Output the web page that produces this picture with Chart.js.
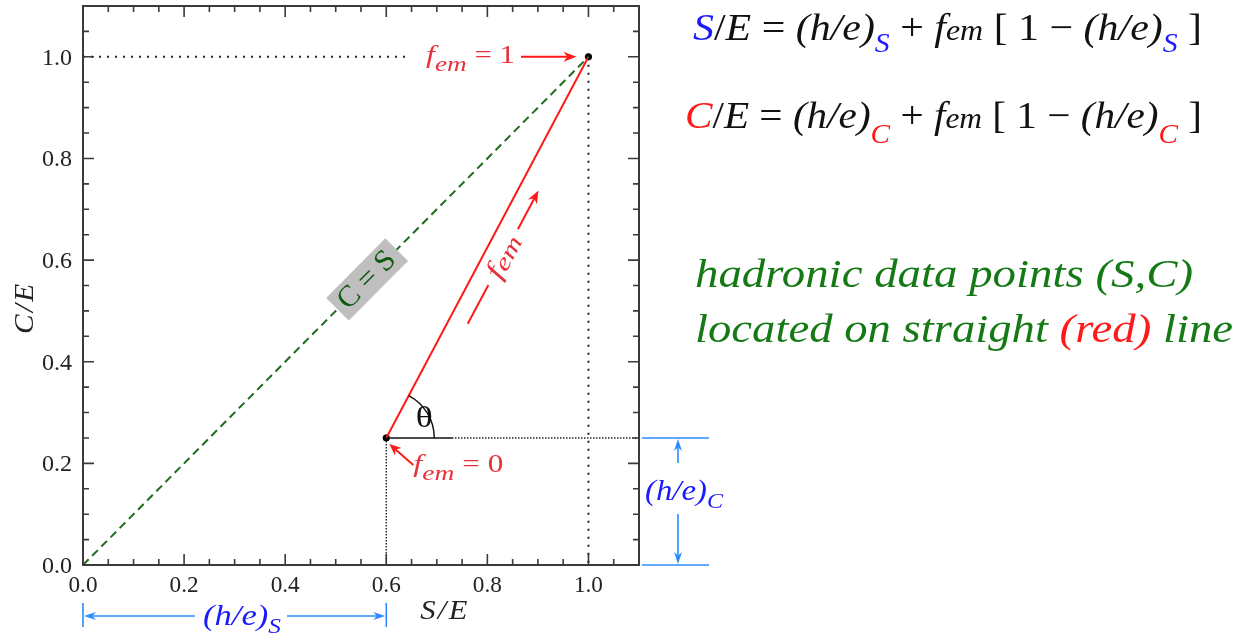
<!DOCTYPE html>
<html>
<head>
<meta charset="utf-8">
<script src="https://cdn.jsdelivr.net/npm/chart.js@4/dist/chart.umd.min.js"></script>
<style>
  html, body { margin: 0; padding: 0; background: #fff; }
  #wrap { width: 1259px; height: 637px; }
</style>
</head>
<body>
<div id="wrap"><canvas id="emChart" width="1259" height="637"></canvas></div>
<script>
// axis ticks
const xTicks = [0.0, 0.2, 0.4, 0.6, 0.8, 1.0];
const yTicks = [0.0, 0.2, 0.4, 0.6, 0.8, 1.0];
const minorStep = 0.05;
const axisMax = 1.1;

// C = S diagonal
const diagS = [0.0, 1.0];
const diagC = [0.0, 1.0];

// hadronic line, from f_em = 0 to f_em = 1
const hadS = [0.6, 1.0];
const hadC = [0.25, 1.0];
const heS = 0.6;
const heC = 0.25;

const SERIF = '"Liberation Serif", "Times New Roman", Times, serif';
const BLACK = '#111';
const RED = '#ff1a1a';
const LABEL_RED = '#e6323c';
const BLUE = '#1a1aff';
const LINE_BLUE = '#2b8cff';
const GREEN = '#157a15';

function pts(xs, ys) {
    return xs.map((x, i) => ({ x: x, y: ys[i] }));
}

// draws text made of several styled pieces; optional width squeezes the whole run
function drawRuns(ctx, parts, x, y, opts) {
    opts = opts || {};
    ctx.save();
    let total = 0;
    const widths = parts.map(p => {
        ctx.font = p.f;
        const w = ctx.measureText(p.t).width + (p.gap || 0);
        total += w;
        return w;
    });
    const sx = opts.width ? opts.width / total : 1;
    ctx.translate(x, y);
    if (opts.rot) ctx.rotate(opts.rot);
    ctx.scale(sx, 1);
    ctx.textBaseline = opts.baseline || 'alphabetic';
    ctx.textAlign = 'left';
    let cx = opts.align === 'center' ? -total / 2 : (opts.align === 'right' ? -total : 0);
    parts.forEach((p, i) => {
        ctx.font = p.f;
        ctx.fillStyle = p.c || BLACK;
        ctx.fillText(p.t, cx + (p.gap || 0) / 2, p.dy || 0);
        cx += widths[i];
    });
    ctx.restore();
}

function arrowHead(ctx, x1, y1, x2, y2, len, half, color) {
    const a = Math.atan2(y2 - y1, x2 - x1);
    ctx.save();
    ctx.fillStyle = color;
    ctx.translate(x2, y2);
    ctx.rotate(a);
    ctx.beginPath();
    ctx.moveTo(0, 0);
    ctx.lineTo(-len, -half);
    ctx.lineTo(-len * 0.7, 0);
    ctx.lineTo(-len, half);
    ctx.closePath();
    ctx.fill();
    ctx.restore();
}

function arrow(ctx, x1, y1, x2, y2, color, width, len, half) {
    ctx.save();
    ctx.strokeStyle = color;
    ctx.lineWidth = width;
    ctx.beginPath();
    ctx.moveTo(x1, y1);
    const a = Math.atan2(y2 - y1, x2 - x1);
    ctx.lineTo(x2 - Math.cos(a) * len * 0.7, y2 - Math.sin(a) * len * 0.7);
    ctx.stroke();
    ctx.restore();
    arrowHead(ctx, x1, y1, x2, y2, len, half, color);
}

function line(ctx, x1, y1, x2, y2, color, width) {
    ctx.save();
    ctx.strokeStyle = color;
    ctx.lineWidth = width;
    ctx.beginPath();
    ctx.moveTo(x1, y1);
    ctx.lineTo(x2, y2);
    ctx.stroke();
    ctx.restore();
}

const decorations = {
    id: 'decorations',
    afterDatasetsDraw(chart) {
        const ctx = chart.ctx;
        const xs = chart.scales.x, ys = chart.scales.y;
        const a = chart.chartArea;
        const px = v => xs.getPixelForValue(v);
        const py = v => ys.getPixelForValue(v);

        // frame
        ctx.save();
        ctx.strokeStyle = '#3a3a3a';
        ctx.lineWidth = 2;
        ctx.strokeRect(a.left, a.top, a.right - a.left, a.bottom - a.top);

        // inward ticks on all four sides
        ctx.lineWidth = 1.6;
        ctx.beginPath();
        const n = Math.round(axisMax / minorStep);
        for (let i = 1; i < n; i++) {
            const v = i * minorStep;
            const len = (i % 4 === 0) ? 11 : 6;
            const x = px(v), y = py(v);
            ctx.moveTo(x, a.bottom); ctx.lineTo(x, a.bottom - len);
            ctx.moveTo(x, a.top); ctx.lineTo(x, a.top + len);
            ctx.moveTo(a.left, y); ctx.lineTo(a.left + len, y);
            ctx.moveTo(a.right, y); ctx.lineTo(a.right - len, y);
        }
        ctx.stroke();
        ctx.restore();

        // tick labels
        const TF = '24px ' + SERIF;
        xTicks.forEach(v => drawRuns(ctx, [{ t: v.toFixed(1), f: TF, c: '#222' }], px(v), a.bottom + 27,
            { align: 'center', width: 29 }));
        yTicks.forEach(v => drawRuns(ctx, [{ t: v.toFixed(1), f: TF, c: '#222' }], a.left - 11, py(v) + 8,
            { align: 'right', width: 30 }));

        // axis titles
        const AT = 'italic 27px ' + SERIF;
        drawRuns(ctx, [{ t: 'S', f: AT, c: '#222' }, { t: '/', f: AT, c: '#222', gap: 4 }, { t: 'E', f: AT, c: '#222' }],
            (px(0.6) + px(0.8)) / 2 + 7, a.bottom + 54, { align: 'center', width: 47 });
        drawRuns(ctx, [{ t: 'C', f: AT, c: '#222' }, { t: '/', f: AT, c: '#222', gap: 4 }, { t: 'E', f: AT, c: '#222' }],
            33, (py(0.4) + py(0.6)) / 2 - 2, { align: 'center', rot: -Math.PI / 2, width: 50 });

        // C = S label box on the diagonal
        const bx = px(0.562), by = py(0.562);
        const diagAng = Math.atan2(py(diagC[1]) - py(diagC[0]), px(diagS[1]) - px(diagS[0]));
        ctx.save();
        ctx.translate(bx, by);
        ctx.rotate(diagAng);
        ctx.fillStyle = '#bfbfbf';
        ctx.fillRect(-42, -16, 84, 32);
        ctx.restore();
        drawRuns(ctx, [{ t: 'C = S', f: '30px ' + SERIF, c: '#0d5a0d' }], bx, by + 1,
            { align: 'center', rot: diagAng, baseline: 'middle', width: 70 });

        // angle theta at f_em = 0
        const x0 = px(hadS[0]), y0 = py(hadC[0]);
        const x1 = px(hadS[1]), y1 = py(hadC[1]);
        const ang = Math.atan2(y1 - y0, x1 - x0);
        ctx.save();
        ctx.strokeStyle = '#111';
        ctx.lineWidth = 1.4;
        ctx.beginPath();
        ctx.arc(x0, y0, 48, ang, 0);
        ctx.stroke();
        ctx.restore();
        drawRuns(ctx, [{ t: '\u03b8', f: '30px ' + SERIF, c: '#111' }], x0 + 38, y0 - 19,
            { align: 'center', baseline: 'middle', width: 17 });

        const FI = 'italic 26px ' + SERIF;
        const FS = 'italic 22px ' + SERIF;
        const FR = '25px ' + SERIF;

        // f_em = 1
        drawRuns(ctx, [{ t: 'f', f: FI, c: LABEL_RED }, { t: 'em', f: FS, c: LABEL_RED, dy: 8 },
            { t: ' = 1', f: FR, c: LABEL_RED }], 426, y1 + 6, { width: 89 });
        arrow(ctx, 521, y1, x1 - 12, y1, RED, 2, 13, 5);

        // f_em = 0
        drawRuns(ctx, [{ t: 'f', f: FI, c: LABEL_RED }, { t: 'em', f: FS, c: LABEL_RED, dy: 8 },
            { t: ' = 0', f: FR, c: LABEL_RED }], x0 + 27, y0 + 34, { width: 90 });
        arrow(ctx, x0 + 27, y0 + 27, x0 + 3, y0 + 6, RED, 2, 12, 5);

        // f_em direction arrow alongside the red line
        const L = Math.hypot(x1 - x0, y1 - y0);
        const ux = (x1 - x0) / L, uy = (y1 - y0) / L;
        const nx = -uy, ny = ux;
        const off = 18.5;
        const at = (s, o) => [x0 + ux * s + nx * o, y0 + uy * s + ny * o];
        const d0 = at(139, off), d1 = at(183, off);
        line(ctx, d0[0], d0[1], d1[0], d1[1], RED, 2);
        const a0 = at(246, off), a1 = at(290, off);
        arrow(ctx, a0[0], a0[1], a1[0], a1[1], RED, 2, 13, 5);
        const tc = at(215, off + 1);
        drawRuns(ctx, [{ t: 'f', f: 'italic 27px ' + SERIF, c: LABEL_RED }, { t: 'em', f: 'italic 23px ' + SERIF, c: LABEL_RED, dy: 3 }],
            tc[0], tc[1], { align: 'center', rot: ang, baseline: 'middle', width: 46 });

        // (h/e)_S bracket below the x axis
        const sy = a.bottom + 51;
        const sl = px(0), sr = px(heS);
        line(ctx, sl, sy - 13, sl, sy + 11, LINE_BLUE, 1.6);
        line(ctx, sr, sy - 13, sr, sy + 11, LINE_BLUE, 1.6);
        arrow(ctx, 195, sy, sl + 1, sy, LINE_BLUE, 1.6, 12, 4);
        arrow(ctx, 287, sy, sr - 1, sy, LINE_BLUE, 1.6, 12, 4);
        const HI = 'italic 30px ' + SERIF;
        const HS = 'italic 22px ' + SERIF;
        drawRuns(ctx, [{ t: '(h/e)', f: HI, c: BLUE }, { t: 'S', f: HS, c: BLUE, dy: 8 }], 203, sy + 9, { width: 78 });

        // (h/e)_C bracket right of the frame
        const cx = a.right + 39;
        const cTop = py(heC), cBot = py(0);
        line(ctx, a.right + 3, cTop, a.right + 70, cTop, LINE_BLUE, 1.6);
        line(ctx, a.right + 3, cBot, a.right + 70, cBot, LINE_BLUE, 1.6);
        arrow(ctx, cx, cTop + 25, cx, cTop + 1, LINE_BLUE, 1.6, 12, 4);
        arrow(ctx, cx, cBot - 51, cx, cBot - 1, LINE_BLUE, 1.6, 12, 4);
        drawRuns(ctx, [{ t: '(h/e)', f: HI, c: BLUE }, { t: 'C', f: HS, c: BLUE, dy: 8 }], a.right + 6, cTop + 62, { width: 78 });

        // equations
        const EI = 'italic 38px ' + SERIF;
        const ER = '38px ' + SERIF;
        const ES = 'italic 27px ' + SERIF;
        const EM = 'italic 29px ' + SERIF;
        drawRuns(ctx, [
            { t: 'S', f: EI, c: BLUE }, { t: '/', f: ER }, { t: 'E', f: EI }, { t: ' = ', f: ER },
            { t: '(h/e)', f: EI }, { t: 'S', f: ES, c: BLUE, dy: 12 }, { t: ' + ', f: ER },
            { t: 'f', f: EI }, { t: 'em', f: EM }, { t: ' [ 1 \u2212 ', f: ER },
            { t: '(h/e)', f: EI }, { t: 'S', f: ES, c: BLUE, dy: 12 }, { t: ' ]', f: ER }
        ], 693, 40, { width: 509 });
        drawRuns(ctx, [
            { t: 'C', f: EI, c: RED }, { t: '/', f: ER }, { t: 'E', f: EI }, { t: ' = ', f: ER },
            { t: '(h/e)', f: EI }, { t: 'C', f: ES, c: RED, dy: 15 }, { t: ' + ', f: ER },
            { t: 'f', f: EI }, { t: 'em', f: EM }, { t: ' [ 1 \u2212 ', f: ER },
            { t: '(h/e)', f: EI }, { t: 'C', f: ES, c: RED, dy: 15 }, { t: ' ]', f: ER }
        ], 685, 128, { width: 517 });

        // note in green
        const GI = 'italic 41px ' + SERIF;
        drawRuns(ctx, [{ t: 'hadronic data points (S,C)', f: GI, c: GREEN }], 695, 287, { width: 498 });
        drawRuns(ctx, [{ t: 'located on straight ', f: GI, c: GREEN }, { t: '(red)', f: GI, c: RED },
            { t: ' line', f: GI, c: GREEN }], 695, 342, { width: 538 });
    }
};

const ctx = document.getElementById('emChart').getContext('2d');
new Chart(ctx, {
    type: 'scatter',
    data: {
        datasets: [
            {
                label: 'C = S',
                data: pts(diagS, diagC),
                showLine: true,
                borderColor: '#1f6b1f',
                borderWidth: 2,
                borderDash: [8, 5],
                pointRadius: 0
            },
            {
                label: 'f_em = 1 guide (C)',
                data: [{ x: 0, y: hadC[1] }, { x: 0.645, y: hadC[1] }],
                showLine: true,
                borderColor: '#222',
                borderWidth: 2,
                borderDash: [2, 6],
                pointRadius: 0
            },
            {
                label: 'f_em = 1 guide (S)',
                data: [{ x: hadS[1], y: hadC[1] }, { x: hadS[1], y: 0 }],
                showLine: true,
                borderColor: '#222',
                borderWidth: 2,
                borderDash: [2, 6],
                pointRadius: 0
            },
            {
                label: '(h/e)_C guide',
                data: [{ x: 0.73, y: heC }, { x: axisMax, y: heC }],
                showLine: true,
                borderColor: '#222',
                borderWidth: 1.4,
                borderDash: [1.5, 1.5],
                pointRadius: 0
            },
            {
                label: '(h/e)_S guide',
                data: [{ x: heS, y: heC }, { x: heS, y: 0 }],
                showLine: true,
                borderColor: '#222',
                borderWidth: 1.4,
                borderDash: [1.5, 1.5],
                pointRadius: 0
            },
            {
                label: 'angle base',
                data: [{ x: heS, y: heC }, { x: 0.73, y: heC }],
                showLine: true,
                borderColor: '#111',
                borderWidth: 1.6,
                pointRadius: 0
            },
            {
                label: 'hadronic line',
                data: pts(hadS, hadC),
                showLine: true,
                borderColor: RED,
                borderWidth: 2,
                pointRadius: 0
            },
            {
                label: 'end points',
                data: pts(hadS, hadC),
                showLine: false,
                backgroundColor: '#000',
                borderColor: '#000',
                pointRadius: 3.2
            }
        ]
    },
    options: {
        responsive: false,
        animation: false,
        devicePixelRatio: 1,
        layout: { padding: { left: 83, top: 6, right: 620, bottom: 72 } },
        plugins: {
            legend: { display: false },
            tooltip: { enabled: false }
        },
        scales: {
            x: { type: 'linear', min: 0, max: axisMax, display: false },
            y: { type: 'linear', min: 0, max: axisMax, display: false }
        }
    },
    plugins: [decorations]
});
</script>
</body>
</html>
